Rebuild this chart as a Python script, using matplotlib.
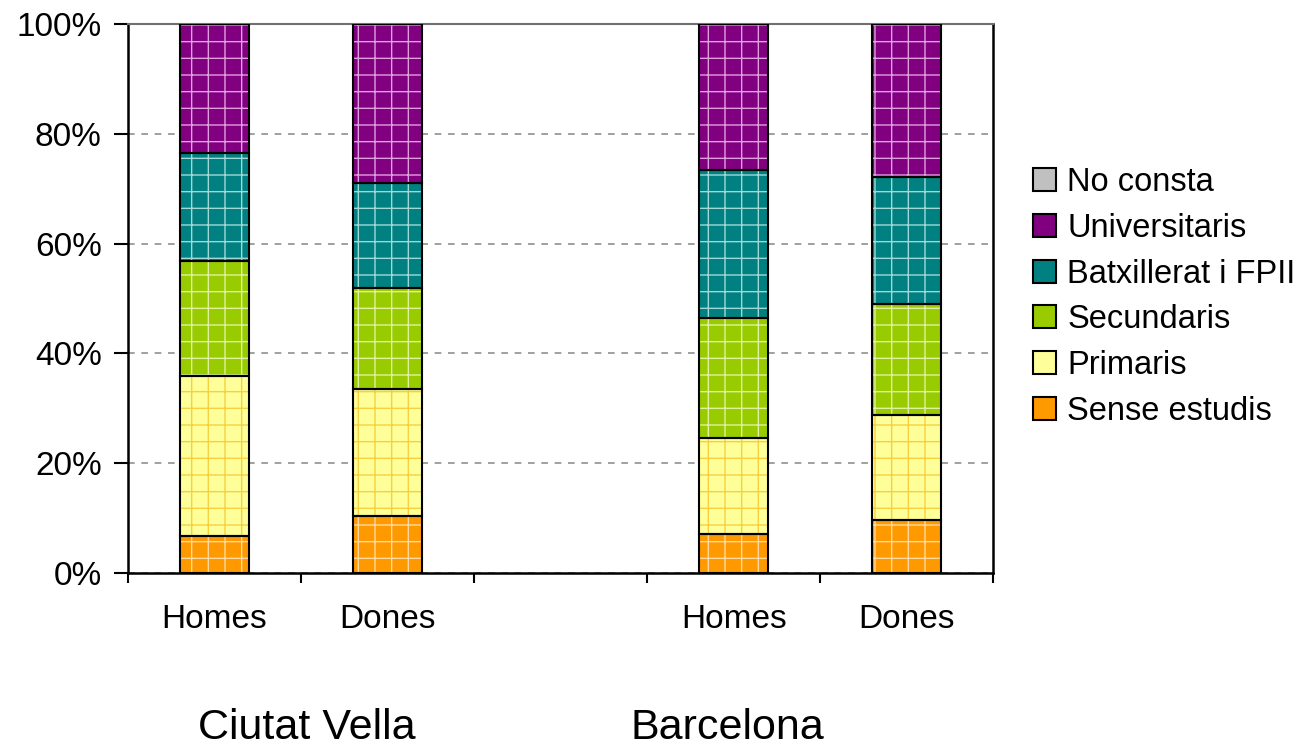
import matplotlib.pyplot as plt
from matplotlib.patches import Patch
import numpy as np

plt.rcParams['font.family'] = ['Liberation Sans', 'DejaVu Sans']
plt.rcParams['hatch.linewidth'] = 1.0

# data (% of population)
groups = ['Ciutat Vella', 'Barcelona']
bar_labels = ['Homes', 'Dones', 'Homes', 'Dones']
slots = [0, 1, 3, 4]
levels = ['Sense estudis', 'Primaris', 'Secundaris', 'Batxillerat i FPII',
          'Universitaris', 'No consta']
sense_estudis = [6.7, 10.4, 7.1, 9.7]
primaris = [29.2, 23.1, 17.5, 19.1]
secundaris = [20.9, 18.4, 21.8, 20.2]
batxillerat = [19.7, 19.1, 27.0, 23.1]
universitaris = [23.5, 29.0, 26.6, 27.9]
no_consta = [0.0, 0.0, 0.0, 0.0]

colors = ['#FF9900', '#FFFF99', '#99CC00', '#008080', '#800080', '#C0C0C0']
hatch_cols = ['#FFD9A0', '#F5D040', '#E0F0A0', '#A0D8D8', '#E0A0E0', '#C0C0C0']

series = [sense_estudis, primaris, secundaris, batxillerat, universitaris, no_consta]

fig = plt.figure(figsize=(13.05, 7.48), dpi=100)
ax = fig.add_axes([0.0981, 0.234, 0.663, 0.734])

x = np.array(slots) + 0.5
w = 0.4
bottom = np.zeros(4)
handles = []
for vals, c, hc, lab in zip(series, colors, hatch_cols, levels):
    vals = np.array(vals)
    ax.bar(x, vals, w, bottom=bottom, color=c, edgecolor=hc, hatch='+',
           linewidth=0, zorder=2)
    ax.bar(x, vals, w, bottom=bottom, fill=False, edgecolor='black',
           linewidth=1.5, zorder=3)
    handles.append(Patch(facecolor=c, edgecolor='black', linewidth=1.5))
    bottom += vals

ax.set_xlim(0, 5)
ax.set_ylim(0, 100)
ax.set_yticks([0, 20, 40, 60, 80, 100])
ax.set_yticklabels(['0%', '20%', '40%', '60%', '80%', '100%'])
ax.set_xticks([0, 1, 2, 3, 4, 5])
ax.set_xticklabels([])
ax.set_xticks(x, minor=True)
ax.set_xticklabels(bar_labels, minor=True)
ax.tick_params(axis='x', which='minor', length=0, pad=22, labelsize=24)
ax.tick_params(axis='x', which='major', direction='out', length=7, width=1.5)
ax.tick_params(axis='y', direction='out', length=10, width=1.5, labelsize=24, pad=9)

ax.yaxis.grid(True, linestyle=(0, (4, 4)), color='#909090', linewidth=1.2, zorder=0)
ax.set_axisbelow(True)
for s in ['left', 'bottom', 'right']:
    ax.spines[s].set_linewidth(1.8)
ax.spines['top'].set_color('#707070')
ax.spines['top'].set_linewidth(1.5)

fig.text(307 / 1305, 1 - 728 / 748, groups[0], ha='center', va='center', fontsize=31)
fig.text(727 / 1305, 1 - 728 / 748, groups[1], ha='center', va='center', fontsize=31)

leg = fig.legend(handles[::-1], levels[::-1], loc='center left',
                 bbox_to_anchor=(1033 / 1305, 1 - 297 / 748), frameon=False,
                 fontsize=23.5, handlelength=0.7, handleheight=0.7,
                 handletextpad=0.35, labelspacing=0.45, borderpad=0,
                 borderaxespad=0)

fig.savefig('out.png', dpi=100)
